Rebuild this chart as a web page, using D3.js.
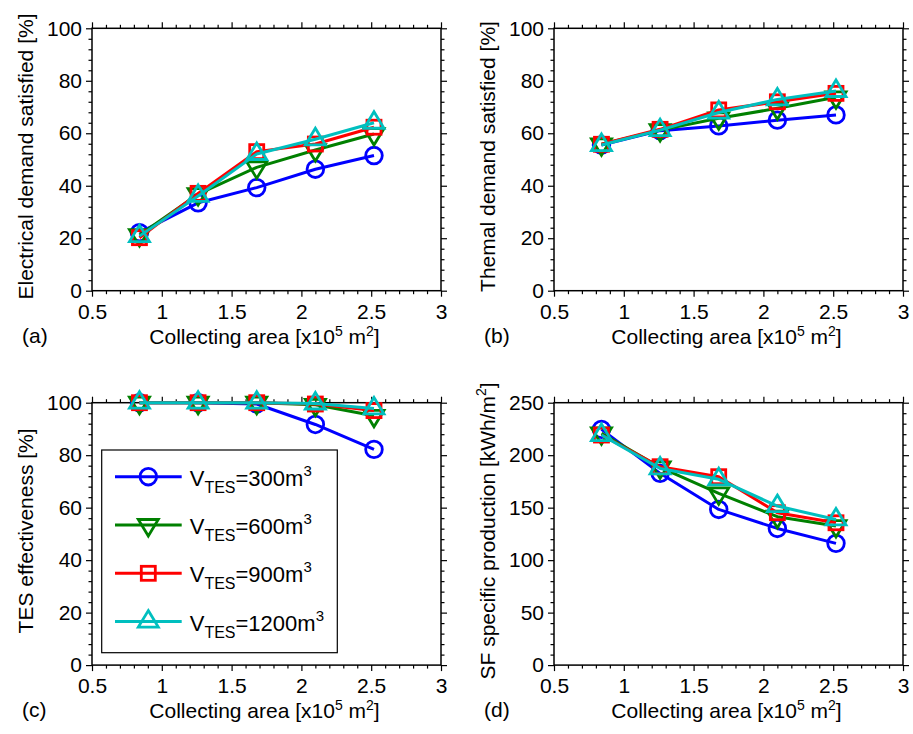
<!DOCTYPE html>
<html><head><meta charset="utf-8">
<script src="https://cdn.jsdelivr.net/npm/d3@7"></script>
<style>
body{margin:0;background:#fff}
svg{display:block}
text{font-family:"Liberation Sans",Arial,Helvetica,sans-serif;fill:#000}
</style>
</head><body>
<svg id="chart" width="913" height="734"></svg>
<script>
// ---------- data ----------
const collectingArea = [0.84, 1.26, 1.68, 2.10, 2.52];
const tesVolumes = [300, 600, 900, 1200];

const elec300  = [22.1, 33.5, 39.3, 46.3, 51.5];
const elec600  = [21.2, 36.8, 47.0, 53.6, 59.7];
const elec900  = [20.2, 37.1, 53.0, 55.9, 62.3];
const elec1200 = [20.8, 36.1, 52.1, 57.7, 64.0];

const therm300  = [55.5, 61.0, 62.8, 65.0, 67.0];
const therm600  = [55.8, 61.2, 65.7, 69.5, 73.7];
const therm900  = [55.8, 61.5, 68.9, 72.0, 75.2];
const therm1200 = [55.5, 61.2, 67.9, 72.9, 76.1];

const tes300  = [100, 100, 99.5, 91.7, 82.2];
const tes600  = [100, 100, 100, 99.2, 95.0];
const tes900  = [100, 100, 100, 99.5, 97.0];
const tes1200 = [100, 100, 100, 99.7, 97.8];

const sf300  = [224.6, 182.7, 148.3, 130.2, 116.0];
const sf600  = [220.8, 188.4, 163.6, 141.4, 132.5];
const sf900  = [219.2, 189.0, 179.5, 145.2, 135.6];
const sf1200 = [219.2, 187.4, 177.0, 151.5, 138.8];

const xTickValues = [0.5, 1, 1.5, 2, 2.5, 3];
const xTickLabels = ["0.5", "1", "1.5", "2", "2.5", "3"];
const pctTicks = [0, 20, 40, 60, 80, 100];
const sfTicks = [0, 50, 100, 150, 200, 250];

const panelLetters = ["(a)", "(b)", "(c)", "(d)"];

// ---------- styles ----------
const seriesColors = ["#0000ff", "#008000", "#ff0000", "#00bfbf"];
const seriesMarkers = ["circle", "triangleDown", "square", "triangleUp"];

const svg = d3.select("#chart");
const FONT = 21;

const panels = [
  {left: 92,  top: 28.3,  series: [elec300, elec600, elec900, elec1200], yDomain: [0,100], yTicks: pctTicks,
   ylabel: [{t:"Electrical demand satisfied [%]"}], letter: panelLetters[0]},
  {left: 554, top: 28.3,  series: [therm300, therm600, therm900, therm1200], yDomain: [0,100], yTicks: pctTicks,
   ylabel: [{t:"Themal demand satisfied [%]"}], letter: panelLetters[1]},
  {left: 92,  top: 402.7, series: [tes300, tes600, tes900, tes1200], yDomain: [0,100], yTicks: pctTicks,
   ylabel: [{t:"TES effectiveness [%]"}], letter: panelLetters[2], legend: true},
  {left: 554, top: 402.7, series: [sf300, sf600, sf900, sf1200], yDomain: [0,250], yTicks: sfTicks,
   ylabel: [{t:"SF specific production [kWh/m"},{t:"2",sup:true},{t:"]"}], letter: panelLetters[3]}
];
const W = 349, H = 262.4;

function markerShape(g, type, color) {
  const sw = 2.8;
  if (type === "circle") {
    g.append("circle").attr("r", 8.3).attr("fill", "none").attr("stroke", color).attr("stroke-width", sw);
  } else if (type === "square") {
    g.append("rect").attr("x", -7).attr("y", -7).attr("width", 14).attr("height", 14)
      .attr("fill", "none").attr("stroke", color).attr("stroke-width", sw);
  } else if (type === "triangleUp") {
    g.append("path").attr("d", "M0,-11 L10,5.5 L-10,5.5 Z")
      .attr("fill", "none").attr("stroke", color).attr("stroke-width", sw).attr("stroke-linejoin", "miter");
  } else if (type === "triangleDown") {
    g.append("path").attr("d", "M0,11 L10,-5.5 L-10,-5.5 Z")
      .attr("fill", "none").attr("stroke", color).attr("stroke-width", sw).attr("stroke-linejoin", "miter");
  }
}

// text with superscripts; sup raised by 'rise' px, then baseline restored
function richText(sel, parts, supSize, rise) {
  let raised = false;
  parts.forEach(p => {
    const ts = sel.append("tspan").text(p.t);
    if (p.sup) { ts.attr("font-size", supSize).attr("dy", -rise); raised = true; }
    else if (raised) { ts.attr("dy", rise); raised = false; }
  });
}

panels.forEach(p => {
  const g = svg.append("g").attr("transform", `translate(${p.left},${p.top})`);
  const x = d3.scaleLinear().domain([0.5, 3]).range([0, W]);
  const y = d3.scaleLinear().domain(p.yDomain).range([H, 0]);

  const xMinor = d3.range(5, 31).filter(i => i % 5 !== 0).map(i => i / 10);
  const yStep = p.yTicks[1] - p.yTicks[0];
  const yMinor = d3.range(0, p.yDomain[1] / (yStep / 5) + 1).map(i => i * yStep / 5)
                   .filter(v => Math.abs(v / yStep - Math.round(v / yStep)) > 1e-6);

  const styleAxis = a => {
    a.select(".domain").remove();
    a.selectAll("line").attr("stroke", "#000").attr("stroke-width", 1.2);
    a.selectAll("text").attr("font-size", FONT).attr("fill", "#000")
      .style("font-family", '"Liberation Sans",Arial,sans-serif');
  };

  // bottom
  g.append("g").attr("transform", `translate(0,${H})`)
    .call(d3.axisBottom(x).tickValues(xTickValues).tickFormat((d, i) => xTickLabels[i]).tickSize(6).tickPadding(7))
    .call(styleAxis);
  g.append("g").attr("transform", `translate(0,${H})`)
    .call(d3.axisBottom(x).tickValues(xMinor).tickFormat("").tickSize(3.5)).call(styleAxis);
  // top
  g.append("g").call(d3.axisTop(x).tickValues(xTickValues).tickFormat("").tickSize(6)).call(styleAxis);
  g.append("g").call(d3.axisTop(x).tickValues(xMinor).tickFormat("").tickSize(3.5)).call(styleAxis);
  // left
  g.append("g").call(d3.axisLeft(y).tickValues(p.yTicks).tickFormat(d3.format("d")).tickSize(6).tickPadding(4))
    .call(styleAxis);
  g.append("g").call(d3.axisLeft(y).tickValues(yMinor).tickFormat("").tickSize(3.5)).call(styleAxis);
  // right
  g.append("g").attr("transform", `translate(${W},0)`)
    .call(d3.axisRight(y).tickValues(p.yTicks).tickFormat("").tickSize(6)).call(styleAxis);
  g.append("g").attr("transform", `translate(${W},0)`)
    .call(d3.axisRight(y).tickValues(yMinor).tickFormat("").tickSize(3.5)).call(styleAxis);

  // frame
  g.append("rect").attr("width", W).attr("height", H).attr("fill", "none")
    .attr("stroke", "#000").attr("stroke-width", 1.5);

  // series
  const line = d3.line().x((d, i) => x(collectingArea[i])).y(d => y(d));
  p.series.forEach((vals, si) => {
    g.append("path").datum(vals).attr("d", line).attr("fill", "none")
      .attr("stroke", seriesColors[si]).attr("stroke-width", 3).attr("stroke-linejoin", "round");
    vals.forEach((v, i) => {
      const mg = g.append("g").attr("transform", `translate(${x(collectingArea[i])},${y(v)})`);
      markerShape(mg, seriesMarkers[si], seriesColors[si]);
    });
  });

  // x label
  const xl = g.append("text").attr("x", W / 2 - 2).attr("y", H + 53).attr("text-anchor", "middle").attr("font-size", FONT);
  richText(xl, [{t:"Collecting area [x10"},{t:"5",sup:true},{t:" m"},{t:"2",sup:true},{t:"]"}], 14, 8);

  // letter
  g.append("text").attr("x", -70).attr("y", H + 52).attr("font-size", FONT).text(p.letter);

  // y label
  const yl = g.append("text").attr("transform", `translate(-59,${H / 2 - 3}) rotate(-90)`)
    .attr("text-anchor", "middle").attr("font-size", FONT);
  richText(yl, p.ylabel, 14, 9);

  // legend
  if (p.legend) {
    const lg = svg.append("g").attr("transform", "translate(101.7,450)");
    lg.append("rect").attr("width", 235.6).attr("height", 202.7).attr("fill", "#fff")
      .attr("stroke", "#000").attr("stroke-width", 1.2);
    tesVolumes.forEach((vol, si) => {
      const ey = 26.7 + si * 48.3;
      lg.append("line").attr("x1", 13.3).attr("x2", 80).attr("y1", ey).attr("y2", ey)
        .attr("stroke", seriesColors[si]).attr("stroke-width", 3);
      const mg = lg.append("g").attr("transform", `translate(46.6,${ey})`);
      markerShape(mg, seriesMarkers[si], seriesColors[si]);
      const t = lg.append("text").attr("x", 88).attr("y", ey + 9).attr("font-size", 22);
      t.append("tspan").text("V");
      t.append("tspan").text("TES").attr("font-size", 16).attr("dy", 7);
      t.append("tspan").text("=" + vol + "m").attr("dy", -7);
      t.append("tspan").text("3").attr("font-size", 15).attr("dy", -10);
    });
  }
});
</script>
</body></html>
